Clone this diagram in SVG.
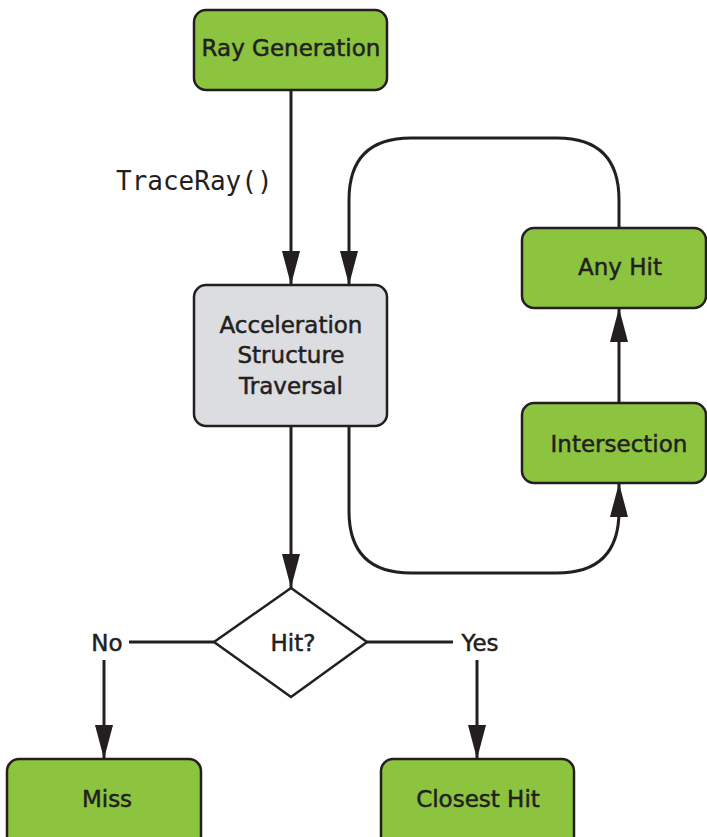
<svg xmlns="http://www.w3.org/2000/svg" width="707" height="837" viewBox="0 0 707 837">
<style>
.box{fill:#8cc43f;stroke:#231f20;stroke-width:2.5}
.gray{fill:#dcdde0;stroke:#231f20;stroke-width:2.5}
.lbl{font-family:"DejaVu Sans",sans-serif;font-size:23px;fill:#231f20;stroke:#231f20;stroke-width:0.5;text-anchor:middle}
.mono{font-family:"DejaVu Sans Mono","Liberation Mono",monospace;font-size:26px;fill:#231f20}
.ln{fill:none;stroke:#231f20;stroke-width:3}
</style>
<defs>
<marker id="ah" viewBox="0 0 34 18" refX="34" refY="9" markerWidth="34" markerHeight="18" markerUnits="userSpaceOnUse" orient="auto">
<path d="M0,0 L34,9 L0,18 Z" fill="#231f20"/>
</marker>
</defs>
<rect width="707" height="837" fill="#ffffff"/>
<g id="connectors">
<line class="ln" x1="291" y1="90" x2="291" y2="285" marker-end="url(#ah)"/>
<path class="ln" d="M619,228 L619,200 Q619,138 557,138 L411,138 Q349,138 349,200 L349,285" marker-end="url(#ah)"/>
<line class="ln" x1="619" y1="403" x2="619" y2="308" marker-end="url(#ah)"/>
<path class="ln" d="M349,426 L349,511 Q349,573 411,573 L557,573 Q619,573 619,511 L619,483" marker-end="url(#ah)"/>
<line class="ln" x1="291" y1="426" x2="291" y2="588" marker-end="url(#ah)"/>
<line class="ln" x1="214" y1="642" x2="129" y2="642"/>
<line class="ln" x1="367" y1="642" x2="453" y2="642"/>
<line class="ln" x1="104" y1="660" x2="104" y2="759" marker-end="url(#ah)"/>
<line class="ln" x1="477" y1="660" x2="477" y2="759" marker-end="url(#ah)"/>
<text class="mono" x="116" y="190">TraceRay()</text>
<text class="lbl" x="107" y="651">No</text>
<text class="lbl" x="480" y="651">Yes</text>
</g>
<g id="raygen">
<rect class="box" x="194" y="10" width="193" height="80" rx="12"/>
<text class="lbl" x="291" y="56">Ray Generation</text>
</g>
<g id="traversal">
<rect class="gray" x="194" y="285" width="193" height="141" rx="12"/>
<text class="lbl" x="291" y="333">Acceleration</text>
<text class="lbl" x="291" y="363">Structure</text>
<text class="lbl" x="291" y="394">Traversal</text>
</g>
<g id="anyhit">
<rect class="box" x="522" y="228" width="184" height="80" rx="12"/>
<text class="lbl" x="620" y="275">Any Hit</text>
</g>
<g id="intersection">
<rect class="box" x="522" y="403" width="184" height="80" rx="12"/>
<text class="lbl" x="619" y="452">Intersection</text>
</g>
<g id="hit">
<polygon points="291,588 367,642 291,697 214,642" fill="#ffffff" stroke="#231f20" stroke-width="2.5"/>
<text class="lbl" x="293" y="651">Hit?</text>
</g>
<g id="miss">
<rect class="box" x="7" y="759" width="194" height="100" rx="12"/>
<text class="lbl" x="107" y="807">Miss</text>
</g>
<g id="closesthit">
<rect class="box" x="381" y="759" width="193" height="100" rx="12"/>
<text class="lbl" x="478" y="807">Closest Hit</text>
</g>
</svg>
